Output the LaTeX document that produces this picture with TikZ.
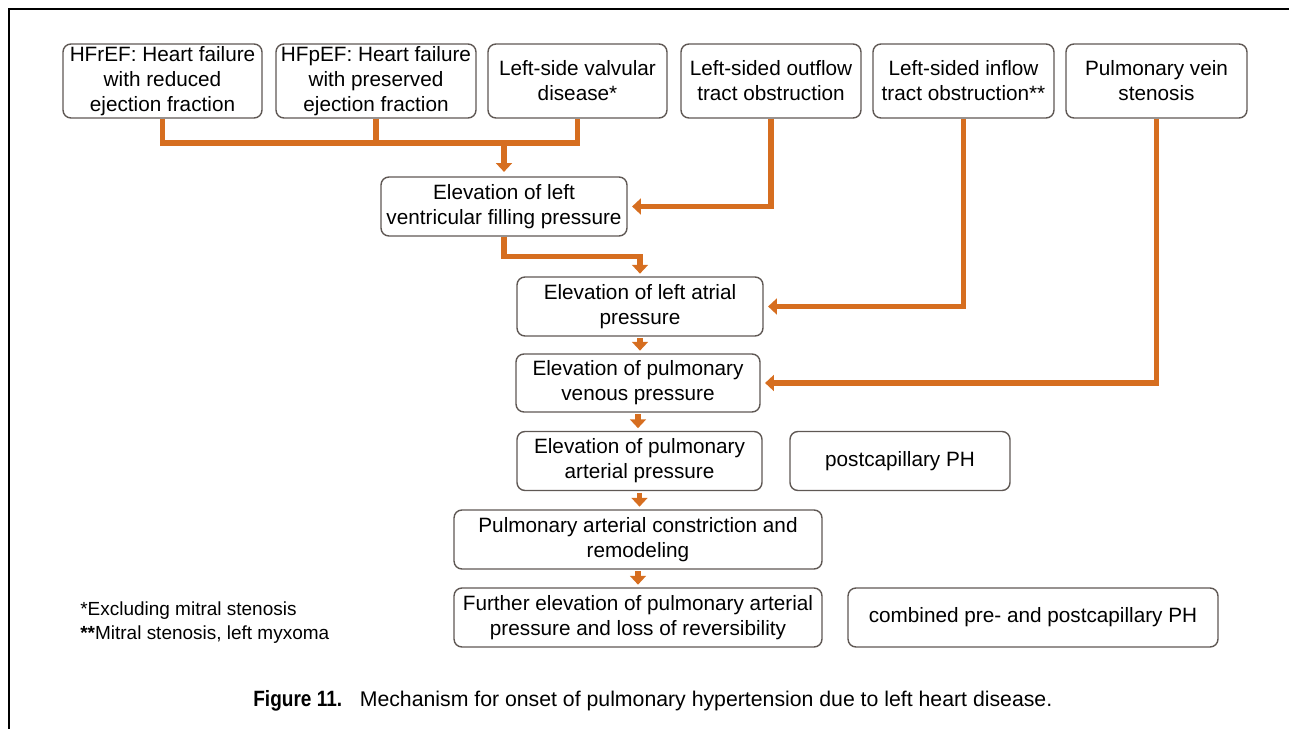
\documentclass[tikz,border=0pt]{standalone}
\usepackage{fontspec}
\setmainfont{Liberation Sans}
\newfontfamily\figfont[FakeStretch=0.86]{Liberation Sans Bold}
\usetikzlibrary{arrows.meta}
\definecolor{flowor}{RGB}{214,110,32}
\definecolor{boxline}{RGB}{95,88,84}
\begin{document}
\begin{tikzpicture}[x=0.02cm,y=-0.02cm]
	% styles
	\tikzstyle{stage} = [draw=boxline,line width=0.8pt,rounded corners=4.5pt,align=center,inner sep=0pt,font=\fontsize{11.8}{14.2}\selectfont]
	\tikzstyle{cause} = [stage,minimum height=1.48cm]
	\tikzstyle{effect} = [stage,minimum height=1.18cm]
	\tikzstyle{feed} = [draw=flowor,line width=3pt]
	\tikzstyle{push} = [feed,-{Triangle[width=9pt,length=5pt]},shorten >=1.5pt]
	
	% bounding box
	\useasboundingbox (0,0) rectangle (1289,729);
	
	% frame
	\draw[line width=1.7pt] (1289,9) -- (9,9) -- (9,729);
	
	% causes (top row)
	\node[cause,minimum width=3.98cm] (hfref) at (162.5,81) {HFrEF: Heart failure\\with reduced\\ejection fraction};
	\node[cause,minimum width=4.0cm] (hfpef) at (376,81) {HFpEF: Heart failure\\with preserved\\ejection fraction};
	\node[cause,minimum width=3.58cm] (valv) at (577.5,81) {Left-side valvular\\disease*};
	\node[cause,minimum width=3.6cm] (outfl) at (771,81) {Left-sided outflow\\tract obstruction};
	\node[cause,minimum width=3.62cm] (infl) at (963.5,81) {Left-sided inflow\\tract obstruction**};
	\node[cause,minimum width=3.62cm] (pvein) at (1156.5,81) {Pulmonary vein\\stenosis};
	
	% chain of elevations
	\node[effect,minimum width=4.92cm] (lvfp) at (504,206.5) {Elevation of left\\ventricular filling pressure};
	\node[effect,minimum width=4.92cm] (lap) at (640,306.5) {Elevation of left atrial\\pressure};
	\node[effect,minimum width=4.88cm,minimum height=1.16cm] (pvp) at (638,383) {Elevation of pulmonary\\venous pressure};
	\node[effect,minimum width=4.9cm] (pap) at (639.5,461) {Elevation of pulmonary\\arterial pressure};
	\node[effect,minimum width=4.4cm] (post) at (900,461) {postcapillary PH};
	\node[effect,minimum width=7.36cm] (remod) at (638,539.5) {Pulmonary arterial constriction and\\remodeling};
	\node[effect,minimum width=7.36cm] (further) at (638,617.5) {Further elevation of pulmonary arterial\\pressure and loss of reversibility};
	\node[effect,minimum width=7.4cm] (comb) at (1033,617.5) {combined pre- and postcapillary PH};
	
	% merging of the three heart failure causes
	\coordinate (merge) at (504,143);
	\draw[feed] (hfref.south) |- (merge);
	\draw[feed] (valv.south) |- (merge);
	\draw[feed] (hfpef.south) -- (hfpef.south |- merge);
	\draw[push,shorten >=2.5pt] (merge) -- (lvfp.north);
	
	% side inputs
	\draw[push,shorten >=2.5pt] (outfl.south) |- (lvfp.east);
	\draw[push,shorten >=2.5pt] (infl.south) |- (lap.east);
	\draw[push,shorten >=2.5pt] (pvein.south) |- (pvp.east);
	
	% down the chain
	\draw[push] (lvfp.south) -- ++(0,20) -| (lap.north);
	\draw[push,shorten <=1pt] (lap.south) -- (lap.south |- pvp.north);
	\draw[push,shorten <=1pt] (pvp.south) -- (pvp.south |- pap.north);
	\draw[push,shorten <=1pt] (pap.south) -- (pap.south |- remod.north);
	\draw[push,shorten <=1pt] (remod.south) -- (remod.south |- further.north);
	
	% footnotes
	\node[anchor=west,align=left,inner sep=0pt,font=\fontsize{10.8}{13.6}\selectfont] (notes) at (80,623) {*Excluding mitral stenosis\\\textbf{**}Mitral stenosis, left myxoma};
	
	% caption
	\node[anchor=west,inner sep=0pt,font=\fontsize{12.1}{14}\selectfont] (caption) at (253,701) {{\figfont\fontsize{12.6}{14}\selectfont Figure 11.}\hspace*{10pt}Mechanism for onset of pulmonary hypertension due to left heart disease.};
\end{tikzpicture}
\end{document}
